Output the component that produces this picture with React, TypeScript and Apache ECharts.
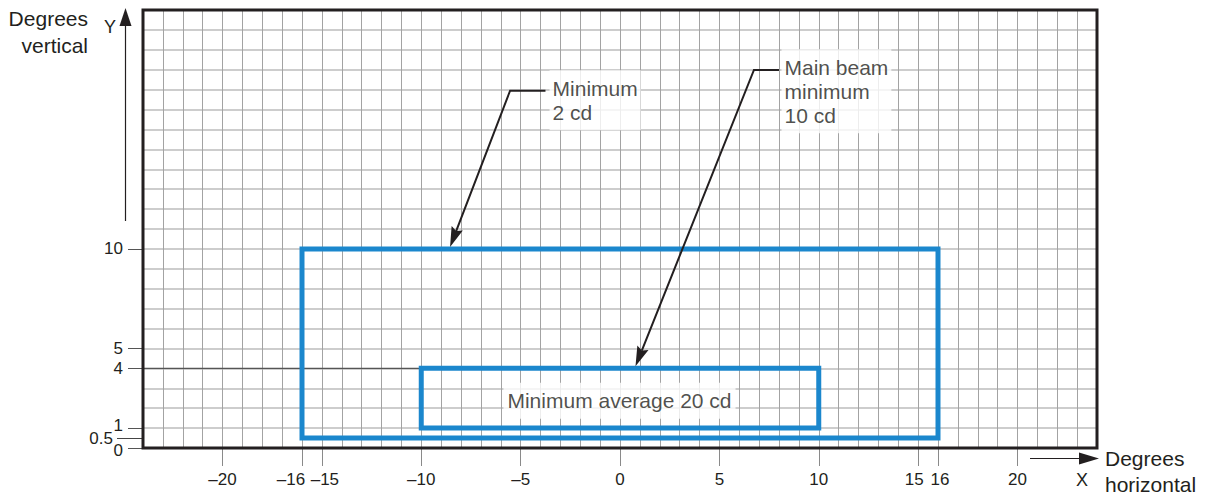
import React, { useEffect, useRef } from "react";
import * as echarts from "echarts";

// ---- data ----
const xRange = [-24, 24];
const yRange = [0, 22];
const gridStep = 1;
const xTickValues = [-20, -16, -15, -10, -5, 0, 5, 10, 15, 16, 20];
const yTickValues = [0, 1, 4, 5, 10];
const yLabelValues = [0, 0.5, 1, 4, 5, 10];
const yLongTickValues = [0.5];
const outerRectX = [-16, 16];
const outerRectY = [0.5, 10];
const innerRectX = [-10, 10];
const innerRectY = [1, 4];
const refLine = [[-24, 4], [-2.2, 4]];
const innerLabelText = "Minimum average 20 cd";
const innerLabelAt = [0, 2.35];
const note1Text = "Minimum\n2 cd";
const note1Box = [-3.52, 18.95];
const note1Leader = [[-3.75, 17.95], [-5.53, 17.95], [-8.55, 10.1]];
const note2Text = "Main beam\nminimum\n10 cd";
const note2Box = [8.15, 20.0];
const note2Leader = [[8.0, 18.99], [6.74, 18.99], [0.78, 4.1]];

const INK = "#231f20";
const BLUE = "#1b87cd";
const FONT = "'Liberation Sans', Arial, Helvetica, sans-serif";

const rectPath = (xs: number[], ys: number[]) => [
  [xs[0], ys[0]],
  [xs[0], ys[1]],
  [xs[1], ys[1]],
  [xs[1], ys[0]],
  [xs[0], ys[0]],
];

const xLabelRich: Record<string, any> = {
  n: { fontSize: 17, color: INK, fontFamily: FONT },
  l22: { fontSize: 17, color: INK, fontFamily: FONT, padding: [0, 22, 0, 0] },
  l8: { fontSize: 17, color: INK, fontFamily: FONT, padding: [0, 8, 0, 0] },
  r6: { fontSize: 17, color: INK, fontFamily: FONT, padding: [0, 0, 0, 6] },
  r4: { fontSize: 17, color: INK, fontFamily: FONT, padding: [0, 0, 0, 4] },
};
const fmtX = (v: number) => {
  const s = v < 0 ? "\u2013" + Math.abs(v) : String(v);
  const style = v === -16 ? "l22" : v === -15 ? "r6" : v === 15 ? "l8" : v === 16 ? "r4" : "n";
  return "{" + style + "|" + s + "}";
};

const leaderSeries = (pts: number[][]) => ({
  type: "custom",
  silent: true,
  z: 6,
  data: [pts[2]],
  renderItem: (_params: any, api: any) => {
    const p = pts.map((q) => api.coord(q));
    const tip = p[2];
    const from = p[1];
    const ang = Math.atan2(tip[1] - from[1], tip[0] - from[0]);
    const c = Math.cos(ang);
    const s = Math.sin(ang);
    const len = 20;
    const half = 6;
    const notch = 3;
    const base = [tip[0] - len * c, tip[1] - len * s];
    const inner = [tip[0] - (len - notch) * c, tip[1] - (len - notch) * s];
    const left = [base[0] + half * s, base[1] - half * c];
    const right = [base[0] - half * s, base[1] + half * c];
    return {
      type: "group",
      children: [
        {
          type: "polyline",
          shape: { points: [p[0], p[1], inner] },
          style: { stroke: INK, lineWidth: 2, fill: null },
        },
        {
          type: "polygon",
          shape: { points: [tip, left, inner, right] },
          style: { fill: INK, stroke: null },
        },
      ],
    };
  },
});

const noLine = { show: false, onZero: false };

export default function App() {
  const ref = useRef<HTMLDivElement>(null);
  useEffect(() => {
    if (!ref.current) return;
    const chart = echarts.init(ref.current, null, { renderer: "svg" });
    const L = 143, T = 10, W = 954, H = 438;
    chart.setOption({
      animation: false,
      backgroundColor: "#fff",
      textStyle: { fontFamily: FONT },
      grid: { left: L, top: T, width: W, height: H, containLabel: false },
      xAxis: [
        {
          type: "value", position: "bottom", min: xRange[0], max: xRange[1], interval: gridStep,
          axisLine: noLine, axisTick: { show: false }, axisLabel: { show: false },
          splitLine: { show: true, showMinLine: false, showMaxLine: false, lineStyle: { color: "#a3a3a3", width: 1 } },
        },
        {
          type: "value", position: "bottom", min: xRange[0], max: xRange[1],
          axisLine: noLine, splitLine: { show: false },
          axisTick: { show: true, customValues: xTickValues, length: 18, lineStyle: { color: "#8a8a8a", width: 1 } },
          axisLabel: { show: true, customValues: xTickValues, margin: 23, formatter: fmtX, rich: xLabelRich, fontSize: 17, color: INK, fontFamily: FONT },
        },
      ],
      yAxis: [
        {
          type: "value", position: "left", min: yRange[0], max: yRange[1], interval: gridStep,
          axisLine: noLine, axisTick: { show: false }, axisLabel: { show: false },
          splitLine: { show: true, showMinLine: false, showMaxLine: false, lineStyle: { color: "#bdbdbd", width: 1.5 } },
        },
        {
          type: "value", position: "left", min: yRange[0], max: yRange[1],
          axisLine: noLine, splitLine: { show: false },
          axisTick: { show: true, customValues: yTickValues, length: 15, lineStyle: { color: "#555", width: 1 } },
          axisLabel: {
            show: true, customValues: yLabelValues, margin: 20, fontSize: 17, color: INK, fontFamily: FONT,
            formatter: (v: number) => (v === 0.5 ? "{h|0.5}" : v === 1 ? "{u|1}" : v === 0 ? "{d|0}" : "{n|" + v + "}"),
            rich: {
              n: { fontSize: 17, color: INK, fontFamily: FONT },
              h: { fontSize: 17, color: INK, fontFamily: FONT, padding: [0, 10, 0, 0] },
              u: { fontSize: 17, color: INK, fontFamily: FONT, padding: [0, 0, 5, 0] },
              d: { fontSize: 17, color: INK, fontFamily: FONT, padding: [5, 0, 0, 0] },
            },
          },
        },
        {
          type: "value", position: "left", min: yRange[0], max: yRange[1],
          axisLine: noLine, splitLine: { show: false }, axisLabel: { show: false },
          axisTick: { show: true, customValues: yLongTickValues, length: 26, lineStyle: { color: "#444", width: 1 } },
        },
      ],
      series: [
        {
          type: "line", data: refLine, symbol: "none", silent: true, z: 3,
          lineStyle: { color: "#555", width: 1.2 },
        },
        {
          type: "line", data: rectPath(outerRectX, outerRectY), symbol: "none", silent: true, z: 4,
          lineStyle: { color: BLUE, width: 5, join: "miter", cap: "square" },
        },
        {
          type: "line", data: rectPath(innerRectX, innerRectY), symbol: "none", silent: true, z: 4,
          lineStyle: { color: BLUE, width: 5, join: "miter", cap: "square" },
        },
        leaderSeries(note1Leader),
        leaderSeries(note2Leader),
        {
          type: "scatter", symbolSize: 1, silent: true, z: 8,
          itemStyle: { color: "rgba(0,0,0,0)" },
          label: {
            show: true, position: [0, 0], align: "left", verticalAlign: "top",
            backgroundColor: "#fff", padding: [6, 3, 6, 3],
            fontSize: 21, lineHeight: 24, color: INK, fontFamily: FONT,
          },
          data: [
            { value: note1Box, label: { formatter: note1Text } },
            { value: note2Box, label: { formatter: note2Text } },
            {
              value: innerLabelAt,
              label: { formatter: innerLabelText, align: "center", verticalAlign: "middle", padding: [6, 4, 6, 4] },
            },
          ],
        },
      ],
      graphic: [
        {
          type: "rect", z: 20, silent: true,
          shape: { x: L, y: T, width: W, height: H },
          style: { fill: "none", stroke: INK, lineWidth: 3 },
        },
        {
          type: "text", x: 88, y: 4.5, silent: true,
          style: { text: "Degrees\nvertical", align: "right", verticalAlign: "top", fontSize: 21, lineHeight: 27, fill: INK, fontFamily: FONT },
        },
        {
          type: "text", x: 110, y: 27, silent: true,
          style: { text: "Y", align: "center", verticalAlign: "middle", fontSize: 18, fill: INK, fontFamily: FONT },
        },
        { type: "line", silent: true, shape: { x1: 125.5, y1: 221, x2: 125.5, y2: 24 }, style: { stroke: INK, lineWidth: 1.2 } },
        { type: "polygon", silent: true, shape: { points: [[125.5, 8], [119.5, 26], [131.5, 26]] }, style: { fill: INK } },
        { type: "line", silent: true, shape: { x1: 1030, y1: 458.5, x2: 1082, y2: 458.5 }, style: { stroke: INK, lineWidth: 1.2 } },
        { type: "polygon", silent: true, shape: { points: [[1099, 458.5], [1079, 452.5], [1079, 464.5]] }, style: { fill: INK } },
        {
          type: "text", x: 1082, y: 480, silent: true,
          style: { text: "X", align: "center", verticalAlign: "middle", fontSize: 18, fill: INK, fontFamily: FONT },
        },
        {
          type: "text", x: 1105, y: 445, silent: true,
          style: { text: "Degrees\nhorizontal", align: "left", verticalAlign: "top", fontSize: 21, lineHeight: 26, fill: INK, fontFamily: FONT },
        },
      ],
    });
    return () => chart.dispose();
  }, []);
  return (
    <div
      ref={ref}
      style={{ position: "fixed", left: 0, top: 0, width: 1207, height: 495, background: "#fff" }}
    />
  );
}
